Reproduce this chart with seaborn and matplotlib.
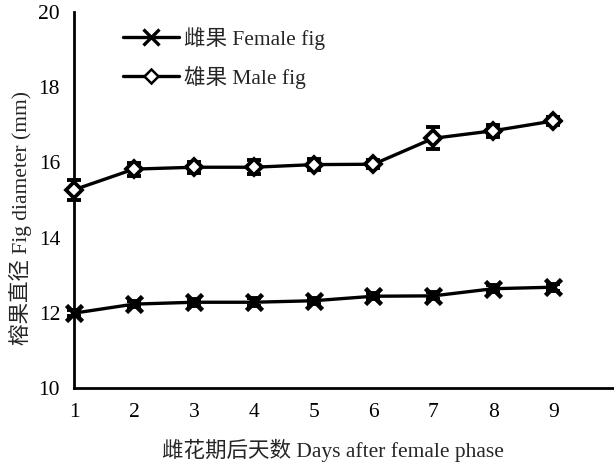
import numpy as np
import pandas as pd
import matplotlib
matplotlib.use("Agg")
import matplotlib.pyplot as plt
import seaborn as sns
from matplotlib.lines import Line2D

days = [1, 2, 3, 4, 5, 6, 7, 8, 9]
female_mean = [11.99, 12.23, 12.28, 12.28, 12.32, 12.44, 12.45, 12.64, 12.68]
female_err = [0.08, 0.08, 0.09, 0.10, 0.08, 0.08, 0.09, 0.10, 0.09]
male_mean = [15.27, 15.82, 15.87, 15.87, 15.94, 15.95, 16.64, 16.84, 17.10]
male_err = [0.26, 0.17, 0.15, 0.19, 0.14, 0.11, 0.29, 0.16, 0.10]

female_label = "雌果 Female fig"
male_label = "雄果 Male fig"
x_label = "雌花期后天数 Days after female phase"
y_label = "榕果直径 Fig diameter (mm)"

sns.set_theme(style="white")
plt.rcParams["font.family"] = ["Liberation Serif", "Noto Sans CJK SC"]

df = pd.DataFrame({
    "day": days * 2,
    "diameter": female_mean + male_mean,
    "fig": [female_label] * len(days) + [male_label] * len(days),
})

fig = plt.figure(figsize=(6.14, 4.66), dpi=100)
ax = fig.add_axes([0.1205, 0.1674, 0.878, 0.807])

lw = 2.4
fs = 15.5
# error bars first so markers sit on top
for mean, err in ((female_mean, female_err), (male_mean, male_err)):
    ax.errorbar(days, mean, yerr=err, fmt="none", ecolor="black",
                elinewidth=2.2, capsize=5, capthick=2.8, zorder=2,
                clip_on=False)

sns.lineplot(data=df[df["fig"] == female_label], x="day", y="diameter",
             color="black", linewidth=lw, marker="x", markersize=11.5,
             markeredgewidth=3.3, markeredgecolor="black", ax=ax, zorder=3,
             legend=False, clip_on=False)
sns.lineplot(data=df[df["fig"] == male_label], x="day", y="diameter",
             color="black", linewidth=lw, marker="D", markersize=8.5,
             markerfacecolor="white", markeredgewidth=2.7,
             markeredgecolor="black", ax=ax, zorder=3, legend=False,
             clip_on=False)

ax.set_xlim(1, 10)
ax.set_ylim(10, 20)
ax.set_xticks(range(1, 11))
ax.set_xticklabels([str(d) for d in days] + [""])
ax.set_yticks(range(10, 21, 2))

for side in ("top", "right"):
    ax.spines[side].set_visible(False)
for side in ("left", "bottom"):
    ax.spines[side].set_color("black")
    ax.spines[side].set_linewidth(2.0)
ax.tick_params(axis="both", direction="in", length=6, width=1.6,
               colors="black", labelsize=fs)
ax.tick_params(axis="y", pad=10)
ax.tick_params(axis="x", pad=11)

ax.set_xlabel(x_label, fontsize=fs)
ax.set_ylabel(y_label, fontsize=fs)
ax.xaxis.set_label_coords(0.4805, -0.135)
ax.yaxis.set_label_coords(-0.077, 0.452)

handles = [
    Line2D([], [], color="black", linewidth=lw, marker="x", markersize=11,
           markeredgewidth=2.4),
    Line2D([], [], color="black", linewidth=lw, marker="D", markersize=7,
           markerfacecolor="white", markeredgewidth=1.8),
]
ax.legend(handles, [female_label, male_label], loc="upper left",
          bbox_to_anchor=(0.055, 1.012), frameon=False, fontsize=fs,
          handlelength=2.6, handletextpad=0.25, labelspacing=0.74)

fig.savefig("out.png", dpi=100, facecolor="white")
